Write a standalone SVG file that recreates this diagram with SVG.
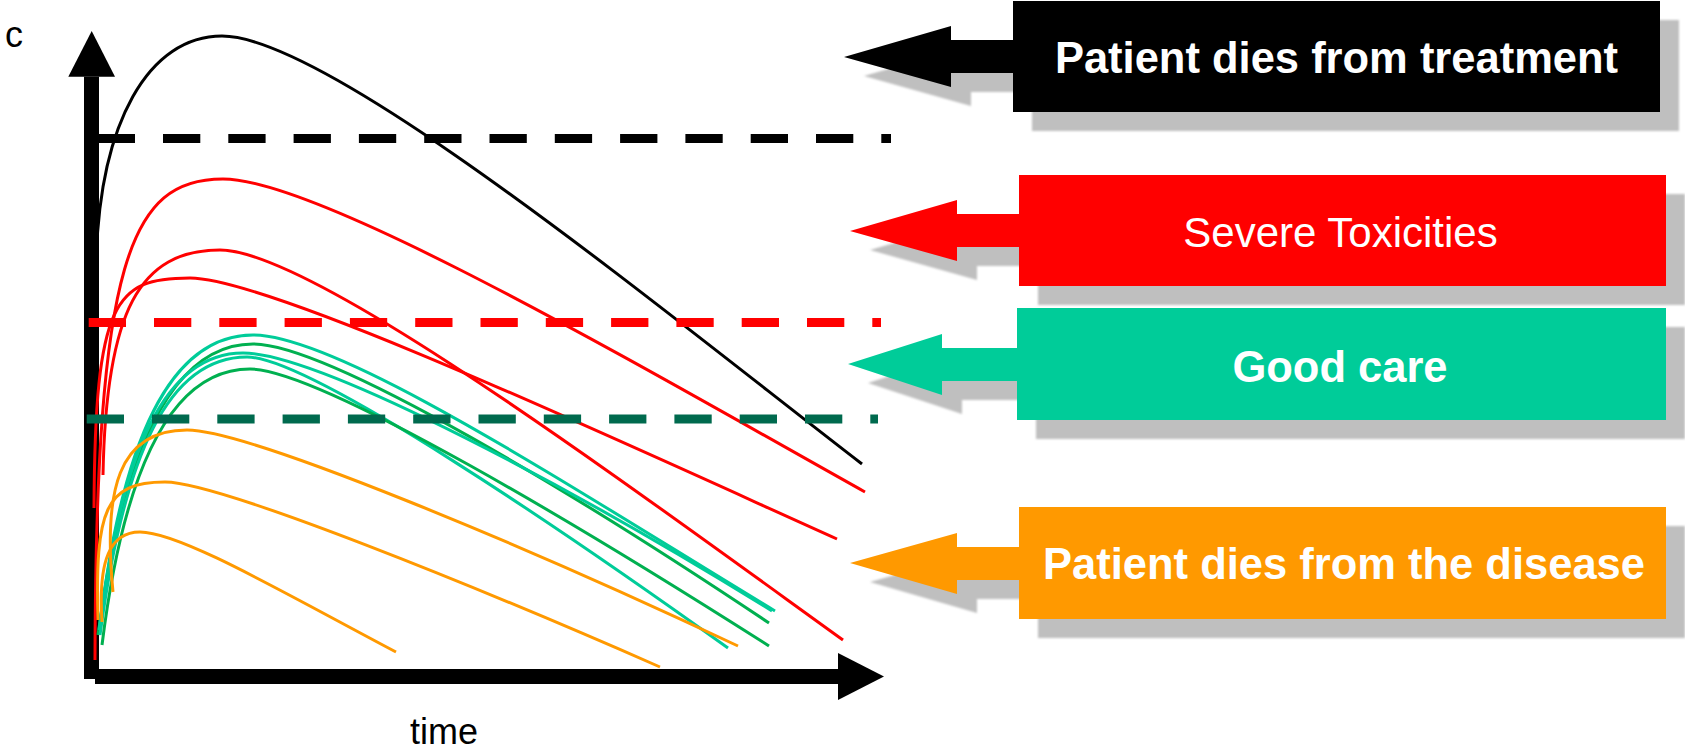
<svg xmlns="http://www.w3.org/2000/svg" width="1685" height="750" viewBox="0 0 1685 750">
<style>
.crv{fill:none;stroke-width:3;stroke-linecap:butt}
.k{stroke:#000}
.r{stroke:#ff0000}
.t{stroke:#00cc99}
.g{stroke:#00b050}
.o{stroke:#ff9900}
.dash{fill:none;stroke-width:9;stroke-dasharray:37.3 28}
.lbl{font-family:"Liberation Sans",Arial,sans-serif;fill:#fff;text-anchor:middle}
.b{font-weight:bold;font-size:43.5px}
.ax{font-family:"Liberation Sans",Arial,sans-serif;font-size:36px;fill:#000}
.sh{fill:#bfbfbf}
</style>
<defs>
<filter id="soft" x="-5%" y="-5%" width="110%" height="110%"><feGaussianBlur stdDeviation="1.2"/></filter>
</defs>
<rect width="1685" height="750" fill="#fff"/>

<g id="axes">
<rect x="84" y="76.7" width="15" height="602.3" fill="#000"/>
<polygon points="91.7,31 68.3,76.7 115,76.7" fill="#000"/>
<rect x="95" y="669" width="743" height="15" fill="#000"/>
<polygon points="838,653 884,676.5 838,700" fill="#000"/>
<text class="ax" x="5" y="47">c</text>
<text class="ax" x="410" y="744">time</text>
</g>

<g id="curves">
<path class="crv k" d="M96,270 C98,120 150,36 222,36 C330,36 662,310 862,464"/>
<path class="crv r" d="M95,660 C96,260 130,179 223,179 C320,179 640,366 865,492"/>
<path class="crv r" d="M103,475 C106,310 140,250 220,250 C310,250 603,467 843,640"/>
<path class="crv r" d="M94,508 C95,300 115,278 190,278 C270,278 617,440 837,539"/>
<path class="crv t" d="M100,625 C122,440 170,335 253,335 C340,335 575,490 775,611"/>
<path class="crv g" d="M98,635 C123,450 172,344 253,344 C330,344 585,500 769,623"/>
<path class="crv t" d="M99,630 C122,450 165,353 243,353 C320,353 580,492 772,611"/>
<path class="crv t" d="M100,635 C124,455 168,357 247,357 C310,357 570,535 728,648"/>
<path class="crv g" d="M102,645 C125,460 175,369 250,369 C320,369 590,532 769,646"/>
<path class="crv o" d="M113,592 C103,490 118,430 187,430 C250,430 530,548 738,646"/>
<path class="crv o" d="M98,620 C95,510 105,482 165,482 C220,482 480,588 660,667"/>
<path class="crv o" d="M102,622 C98,560 110,532 140,532 C180,532 286,594 396,652"/>
</g>

<g id="thresholds">
<line class="dash" x1="97.7" y1="138.5" x2="891" y2="138.5" stroke="#000"/>
<line class="dash" x1="88.7" y1="322.5" x2="881" y2="322.5" stroke="#ff0000"/>
<line class="dash" x1="86.7" y1="419" x2="878" y2="419" stroke="#006a4e"/>
</g>

<g id="shadows" filter="url(#soft)">
<polygon class="sh" points="864,76 971,45 971,59 1033,59 1033,92 971,92 971,106"/>
<rect class="sh" x="1032" y="20" width="647" height="111"/>
<polygon class="sh" points="870,250 977,219 977,233 1039,233 1039,266 977,266 977,280"/>
<rect class="sh" x="1038" y="194" width="647" height="111"/>
<polygon class="sh" points="868,383 962,353 962,367 1036,367 1036,400 962,400 962,414"/>
<rect class="sh" x="1036" y="327" width="649" height="112"/>
<polygon class="sh" points="870,582 977,552 977,566 1039,566 1039,599 977,599 977,613"/>
<rect class="sh" x="1038" y="526" width="647" height="112"/>
</g>

<g id="connectors">
<polygon points="844,57 951,26 951,40 1014,40 1014,73 951,73 951,87" fill="#000"/>
<polygon points="850,231 957,200 957,214 1020,214 1020,247 957,247 957,261" fill="#ff0000"/>
<polygon points="848,364 942,334 942,348 1018,348 1018,381 942,381 942,395" fill="#00cc99"/>
<polygon points="850,563 957,533 957,547 1020,547 1020,580 957,580 957,594" fill="#ff9900"/>
</g>

<g id="node-treatment">
<rect x="1013" y="1" width="647" height="111" fill="#000"/>
<text class="lbl b" x="1336.5" y="73">Patient dies from treatment</text>
</g>
<g id="node-toxicities">
<rect x="1019" y="175" width="647" height="111" fill="#ff0000"/>
<text class="lbl" x="1340.5" y="247" font-size="42">Severe Toxicities</text>
</g>
<g id="node-goodcare">
<rect x="1017" y="308" width="649" height="112" fill="#00cc99"/>
<text class="lbl b" x="1340" y="382">Good care</text>
</g>
<g id="node-disease">
<rect x="1019" y="507" width="647" height="112" fill="#ff9900"/>
<text class="lbl b" x="1344" y="579">Patient dies from the disease</text>
</g>
</svg>
